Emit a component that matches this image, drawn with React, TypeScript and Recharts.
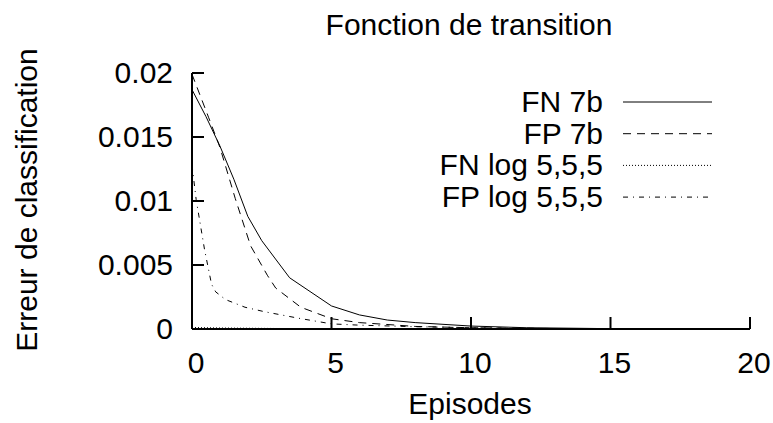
import React from 'react';
import { LineChart, Line, XAxis, YAxis, Customized } from 'recharts';

const fn7bX = [0, 0.5, 1, 1.5, 2, 2.5, 3.5, 5, 6, 7, 8, 10, 12, 14.5];
const fn7bY = [0.0187, 0.0166, 0.0143, 0.0117, 0.0088, 0.0069, 0.004, 0.0018, 0.0011, 0.0007, 0.0005, 0.00023, 0.0001, 0.00004];

const fp7bX = [0, 0.6, 1, 1.55, 2.1, 2.7, 3, 3.9, 5, 6, 8, 10, 12, 14.5];
const fp7bY = [0.0199, 0.0165, 0.0142, 0.0102, 0.0065, 0.0042, 0.0032, 0.0017, 0.0008, 0.0005, 0.0002, 0.0001, 0.00005, 0.00002];

const fnLogX = [0, 1, 2, 3, 5, 8, 10, 14.5];
const fnLogY = [0.00012, 0.00008, 0.00006, 0.00004, 0.00003, 0.00002, 0.00001, 0.00001];

const fpLogX = [0, 0.15, 0.45, 0.7, 0.85, 1.2, 1.9, 2.6, 3.8, 5, 6, 8, 10, 12, 14.5];
const fpLogY = [0.0128, 0.0101, 0.0062, 0.0035, 0.0029, 0.0023, 0.0017, 0.00135, 0.00085, 0.0004, 0.0003, 0.00018, 0.0001, 0.00005, 0.00002];

const xTicks = [0, 5, 10, 15, 20];
const yTicks = [0, 0.005, 0.01, 0.015, 0.02];
const yTickLabels = ['0', '0.005', '0.01', '0.015', '0.02'];

const seriesNames = ['FN 7b', 'FP 7b', 'FN log 5,5,5', 'FP log 5,5,5'];
const dashes = ['', '8 6', '1 2', '5 5 1 5'];

const toData = (xs: number[], ys: number[]) => xs.map((x, i) => ({ x, y: ys[i] }));
const seriesData = [toData(fn7bX, fn7bY), toData(fp7bX, fp7bY), toData(fnLogX, fnLogY), toData(fpLogX, fpLogY)];

const FONT = '"Liberation Sans", Arial, Helvetica, sans-serif';
const FS = 30;

const XTick = (props: any) => {
  const { x, y, payload } = props;
  return (
    <g>
      <line x1={x} y1={y} x2={x} y2={y - 12} stroke="#000" strokeWidth={2} />
      <text x={x + 4} y={y + 44} textAnchor="middle" fontSize={FS} fontFamily={FONT} fill="#000">
        {payload.value}
      </text>
    </g>
  );
};

const YTick = (props: any) => {
  const { x, y, payload } = props;
  const idx = yTicks.indexOf(payload.value);
  return (
    <g>
      <line x1={x} y1={y} x2={x + 12} y2={y} stroke="#000" strokeWidth={2} />
      <text x={x - 19} y={y + 10} textAnchor="end" fontSize={FS} fontFamily={FONT} fill="#000">
        {idx >= 0 ? yTickLabels[idx] : payload.value}
      </text>
    </g>
  );
};

const Overlay = () => (
  <g fontFamily={FONT} fill="#000">
    <text x={469} y={35} textAnchor="middle" fontSize={FS}>Fonction de transition</text>
    <text x={470} y={414} textAnchor="middle" fontSize={FS}>Episodes</text>
    <text x={0} y={0} textAnchor="middle" fontSize={FS} transform="translate(37 200) rotate(-90)">Erreur de classification</text>
    {seriesNames.map((n, i) => {
      const yy = 102 + i * 31.7;
      return (
        <g key={n}>
          <text x={603} y={yy + 10} textAnchor="end" fontSize={FS}>{n}</text>
          <line x1={623} y1={yy} x2={712} y2={yy} stroke="#000" strokeWidth={1} strokeDasharray={dashes[i] || undefined} />
        </g>
      );
    })}
  </g>
);

export default function App() {
  return (
    <div style={{ position: 'absolute', left: 0, top: 0, width: 773, height: 423, background: '#fff' }}>
      <LineChart width={773} height={423} margin={{ top: 73, right: 23, bottom: 0, left: 0 }}>
        <XAxis
          type="number"
          dataKey="x"
          domain={[0, 20]}
          ticks={xTicks}
          allowDataOverflow
          axisLine={{ stroke: '#000', strokeWidth: 2 }}
          tickLine={false}
          tickSize={0}
          tickMargin={0}
          tick={<XTick />}
          height={94}
        />
        <YAxis
          type="number"
          dataKey="y"
          domain={[0, 0.02]}
          ticks={yTicks}
          allowDataOverflow
          axisLine={{ stroke: '#000', strokeWidth: 2 }}
          tickLine={false}
          tickSize={0}
          tickMargin={0}
          tick={<YTick />}
          width={192}
        />
        {seriesData.map((d, i) => (
          <Line
            key={seriesNames[i]}
            data={d}
            dataKey="y"
            type="linear"
            stroke="#000"
            strokeWidth={1}
            strokeDasharray={dashes[i] || undefined}
            dot={false}
            isAnimationActive={false}
          />
        ))}
        <Customized component={Overlay} />
      </LineChart>
    </div>
  );
}
